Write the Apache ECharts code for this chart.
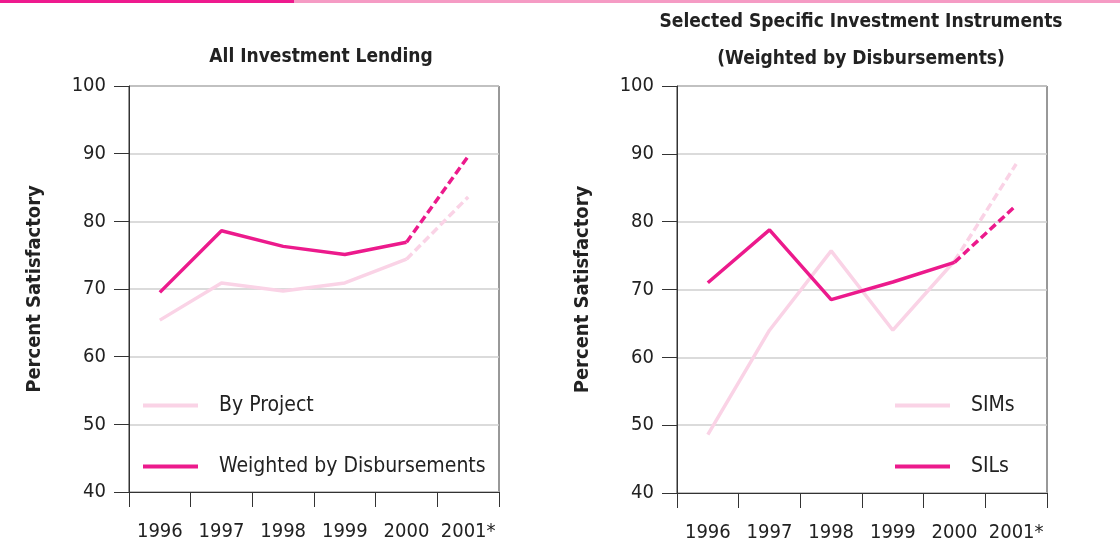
<!DOCTYPE html>
<html>
<head>
<meta charset="utf-8">
<script src="https://cdn.jsdelivr.net/npm/echarts@6/dist/echarts.min.js"></script>
<style>
  html, body { margin: 0; padding: 0; background: #fff; }
  #chart { width: 1120px; height: 550px; }
</style>
</head>
<body>
<div id="chart"></div>
<script>
var years = ['1996', '1997', '1998', '1999', '2000', '2001*'];
var byProject = [65.4, 70.9, 69.7, 70.9, 74.4, 83.6];
var weighted = [69.5, 78.6, 76.3, 75.1, 76.9, 89.6];
var sims = [48.6, 64.0, 75.7, 64.0, 74.2, 88.5];
var sils = [71.0, 78.8, 68.5, 71.1, 74.0, 82.4];
var yTicks = [40, 50, 60, 70, 80, 90, 100];

var DARK = '#ec1a8c';
var LIGHT = '#fad3e6';
var FONT = '"Liberation Sans Narrow", "DejaVu Sans Condensed", sans-serif';

// solid part is 1996-2000, the 2001 estimate is dashed
function solidPart(arr) {
  return arr.map(function (v, i) { return i < arr.length - 1 ? v : '-'; });
}
function dashPart(arr) {
  return arr.map(function (v, i) { return i >= arr.length - 2 ? v : '-'; });
}
function lineSeries(name, data, color, idx, dashed, z) {
  return {
    name: name,
    type: 'line',
    xAxisIndex: idx,
    yAxisIndex: idx,
    data: data,
    symbol: 'none',
    z: z,
    lineStyle: { color: color, width: 3.5, type: dashed ? [8, 4] : 'solid', cap: 'butt' },
    itemStyle: { color: color }
  };
}

var chart = echarts.init(document.getElementById('chart'));

var xAxisBase = function (idx) {
  return {
    type: 'category',
    gridIndex: idx,
    data: years,
    boundaryGap: true,
    axisLine: { lineStyle: { color: '#333', width: 1 } },
    axisTick: { show: true, inside: false, length: 15, interval: 0, alignWithLabel: false, lineStyle: { color: '#333' } },
    axisLabel: { color: '#222', fontSize: 20, fontFamily: FONT, margin: 30, interval: 0 },
    splitLine: { show: false }
  };
};
var yAxisBase = function (idx) {
  return {
    type: 'value',
    gridIndex: idx,
    min: yTicks[0],
    max: yTicks[yTicks.length - 1],
    interval: 10,
    name: 'Percent Satisfactory',
    nameLocation: 'middle',
    nameGap: 84,
    nameRotate: 90,
    nameTextStyle: { color: '#222', fontSize: 20, fontWeight: 'bold', fontFamily: FONT },
    axisLine: { show: true, lineStyle: { color: '#333', width: 1 } },
    axisTick: { show: true, length: 15, lineStyle: { color: '#333' } },
    axisLabel: { color: '#222', fontSize: 20, fontFamily: FONT, margin: 23 },
    splitLine: { show: true, lineStyle: { color: '#cfcfcf', width: 1.5 } }
  };
};

var legendBase = {
  orient: 'vertical',
  icon: 'rect',
  itemWidth: 55,
  itemHeight: 4,
  itemGap: 40,
  textStyle: { color: '#222', fontSize: 21, fontFamily: FONT, padding: [0, 0, 0, 16] }
};

var option = {
  animation: false,
  graphic: [
    { type: 'rect', shape: { x: 0, y: 0, width: 294, height: 3 }, style: { fill: '#ee1a8e' } },
    { type: 'rect', shape: { x: 294, y: 0, width: 826, height: 3 }, style: { fill: '#f59bc4' } }
  ],
  title: [
    {
      text: 'All Investment Lending',
      left: 316, top: 43, textAlign: 'center',
      textStyle: { color: '#222', fontSize: 19, fontWeight: 'bold', fontFamily: FONT }
    },
    {
      text: 'Selected Specific Investment Instruments\n(Weighted by Disbursements)',
      left: 856, top: -1, textAlign: 'center',
      textStyle: { color: '#222', fontSize: 19, fontWeight: 'bold', fontFamily: FONT, lineHeight: 37 }
    }
  ],
  grid: [
    { left: 129, top: 86, width: 370, height: 406, show: true, borderColor: '#333', borderWidth: 1, containLabel: false },
    { left: 677, top: 86, width: 370, height: 407, show: true, borderColor: '#333', borderWidth: 1, containLabel: false }
  ],
  xAxis: [xAxisBase(0), xAxisBase(1)],
  yAxis: [yAxisBase(0), yAxisBase(1)],
  legend: [
    Object.assign({}, legendBase, { left: 138, top: 390, data: ['By Project', 'Weighted by Disbursements'] }),
    Object.assign({}, legendBase, { left: 890, top: 390, data: ['SIMs', 'SILs'] })
  ],
  series: [
    lineSeries('By Project', solidPart(byProject), LIGHT, 0, false, 2),
    lineSeries('By Project est.', dashPart(byProject), LIGHT, 0, true, 2),
    lineSeries('Weighted by Disbursements', solidPart(weighted), DARK, 0, false, 3),
    lineSeries('Weighted est.', dashPart(weighted), DARK, 0, true, 3),
    lineSeries('SIMs', solidPart(sims), LIGHT, 1, false, 2),
    lineSeries('SIMs est.', dashPart(sims), LIGHT, 1, true, 2),
    lineSeries('SILs', solidPart(sils), DARK, 1, false, 3),
    lineSeries('SILs est.', dashPart(sils), DARK, 1, true, 3)
  ]
};

chart.setOption(option);
</script>
</body>
</html>
